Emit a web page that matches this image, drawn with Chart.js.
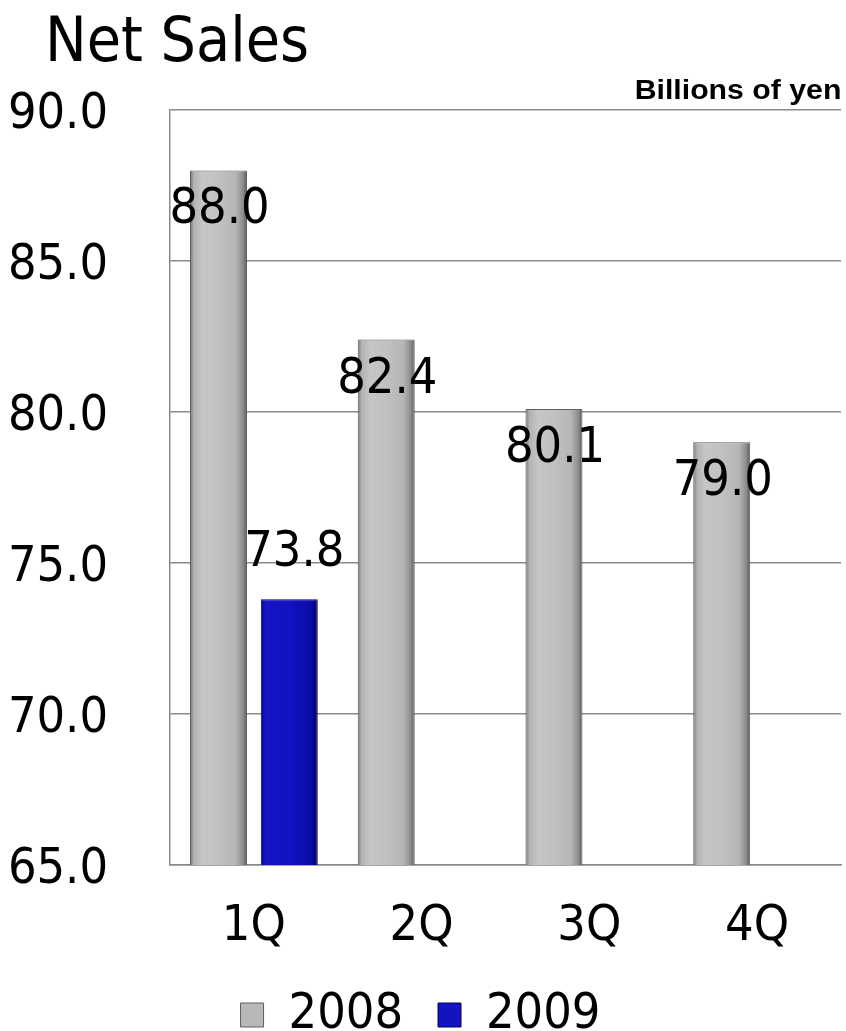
<!DOCTYPE html>
<html>
<head>
<meta charset="utf-8">
<title>Net Sales</title>
<script src="https://cdn.jsdelivr.net/npm/chart.js@4/dist/chart.umd.min.js"></script>
<style>
  html, body { margin: 0; padding: 0; background: #fff; }
  #wrap { position: relative; width: 846px; height: 1031px; overflow: hidden; }
  #sales { position: absolute; left: 0; top: 0; }
  #title {
    position: absolute; left: 45px; top: 9px; margin: 0;
    font: 400 62px/62px "DejaVu Sans Condensed", "DejaVu Sans", sans-serif;
    color: #000; white-space: nowrap;
  }
  #unit {
    position: absolute; right: 5px; top: 76px;
    font: 700 28px/28px "Liberation Sans", Arial, sans-serif;
    color: #000; white-space: nowrap;
    transform: scaleX(1.08); transform-origin: right top;
  }
</style>
</head>
<body>
<div id="wrap">
  <canvas id="sales" width="846" height="1031"></canvas>
  <h1 id="title">Net Sales</h1>
  <div id="unit">Billions of yen</div>
</div>
<script>
// Quarterly net sales, billions of yen
const quarters = ['1Q', '2Q', '3Q', '4Q'];
const seriesNames = ['2008', '2009'];
const sales2008 = [88.0, 82.4, 80.1, 79.0];
const sales2009 = [73.8, null, null, null];
const yAxisMin = 65;
const yAxisMax = 90;
const yAxisStep = 5;

const NARROW = '"DejaVu Sans Condensed", "DejaVu Sans", sans-serif';

// Metallic shading for each bar, built from the bar element's own geometry
const barShading = {
  id: 'barShading',
  beforeDatasetsDraw(chart) {
    const ctx = chart.ctx;
    chart.data.datasets.forEach((ds, di) => {
      const meta = chart.getDatasetMeta(di);
      meta.data.forEach((bar) => {
        if (bar.skip || !isFinite(bar.x) || !isFinite(bar.y)) return;
        const l = bar.x - bar.width / 2, r = bar.x + bar.width / 2;
        const g = ctx.createLinearGradient(l, 0, r, 0);
        if (di === 0) {
          g.addColorStop(0, '#767676');
          g.addColorStop(0.07, '#b3b3b3');
          g.addColorStop(0.22, '#c6c6c6');
          g.addColorStop(0.5, '#c1c1c1');
          g.addColorStop(0.8, '#b6b6b6');
          g.addColorStop(0.93, '#8c8c8c');
          g.addColorStop(1, '#565656');
        } else {
          g.addColorStop(0, '#05058a');
          g.addColorStop(0.08, '#1515c6');
          g.addColorStop(0.5, '#1212c2');
          g.addColorStop(0.85, '#0c0cad');
          g.addColorStop(1, '#02026c');
        }
        bar.options = Object.assign({}, bar.options, { backgroundColor: g });
      });
    });
  },
  afterDatasetsDraw(chart) {
    // slight darkening toward the base of each bar
    const ctx = chart.ctx;
    chart.data.datasets.forEach((ds, di) => {
      const meta = chart.getDatasetMeta(di);
      meta.data.forEach((bar) => {
        if (bar.skip || !isFinite(bar.x) || !isFinite(bar.y)) return;
        const l = bar.x - bar.width / 2;
        const top = Math.min(bar.y, bar.base), bottom = Math.max(bar.y, bar.base);
        const v = ctx.createLinearGradient(0, top, 0, bottom);
        v.addColorStop(0, 'rgba(0,0,0,0)');
        v.addColorStop(0.6, 'rgba(0,0,0,0)');
        v.addColorStop(0.97, 'rgba(0,0,0,0.12)');
        v.addColorStop(1, 'rgba(0,0,0,0.25)');
        ctx.save();
        ctx.fillStyle = v;
        ctx.fillRect(l + 1, top + 1, bar.width - 2, bottom - top - 1);
        ctx.restore();
      });
    });
  }
};

// Value labels: inside the top of the 2008 bars, above the 2009 bar
const valueLabels = {
  id: 'valueLabels',
  afterDatasetsDraw(chart) {
    const ctx = chart.ctx;
    ctx.save();
    ctx.font = '50px ' + NARROW;
    ctx.fillStyle = '#000';
    ctx.textAlign = 'center';
    ctx.textBaseline = 'alphabetic';
    chart.data.datasets.forEach((ds, di) => {
      const meta = chart.getDatasetMeta(di);
      meta.data.forEach((bar, i) => {
        const v = ds.data[i];
        if (v === null || v === undefined) return;
        const dx = di === 0 ? 1 : 5;
        const dy = di === 0 ? 35 : -51;
        ctx.fillText(v.toFixed(1), bar.x + dx, bar.y + dy + 18);
      });
    });
    ctx.restore();
  }
};

// Nudge y tick labels slightly below their grid lines
const yLabelNudge = {
  id: 'yLabelNudge',
  beforeDraw(chart) {
    const items = chart.scales.y.getLabelItems();
    if (items._nudged) return;
    items.forEach((it) => { it.options.translation[1] += 5; });
    items._nudged = true;
  }
};

new Chart(document.getElementById('sales'), {
  type: 'bar',
  data: {
    labels: quarters,
    datasets: [
      {
        label: seriesNames[0],
        data: sales2008,
        backgroundColor: '#b8b8b8',
        borderColor: '#5e5e5e',
        borderWidth: 1,
        categoryPercentage: 0.844,
        barPercentage: 0.805
      },
      {
        label: seriesNames[1],
        data: sales2009,
        backgroundColor: '#1313c0',
        borderColor: '#04045a',
        borderWidth: 1,
        categoryPercentage: 0.844,
        barPercentage: 0.805
      }
    ]
  },
  options: {
    responsive: false,
    animation: false,
    devicePixelRatio: 1,
    layout: { padding: { top: 110, right: 5, left: 0, bottom: -19 } },
    scales: {
      x: {
        grid: { display: false, drawTicks: false },
        border: { display: true, color: '#8a8a8a', width: 1.5 },
        ticks: { color: '#000', padding: 32, font: { family: NARROW, size: 50 } },
        afterFit(s) { s.height = 90; }
      },
      y: {
        min: yAxisMin,
        max: yAxisMax,
        grid: { color: '#8a8a8a', lineWidth: 1.5, drawTicks: false },
        border: { display: true, color: '#8a8a8a', width: 1.5 },
        ticks: {
          stepSize: yAxisStep,
          color: '#000',
          padding: 62,
          font: { family: NARROW, size: 50 },
          callback: (v) => Number(v).toFixed(1)
        },
        afterFit(s) { s.width = 170; }
      }
    },
    plugins: {
      legend: {
        position: 'bottom',
        labels: {
          boxWidth: 23,
          boxHeight: 24,
          padding: 35,
          color: '#000',
          font: { family: NARROW, size: 50 }
        }
      },
      tooltip: { enabled: false },
      title: { display: false }
    }
  },
  plugins: [barShading, valueLabels, yLabelNudge]
});
</script>
</body>
</html>
